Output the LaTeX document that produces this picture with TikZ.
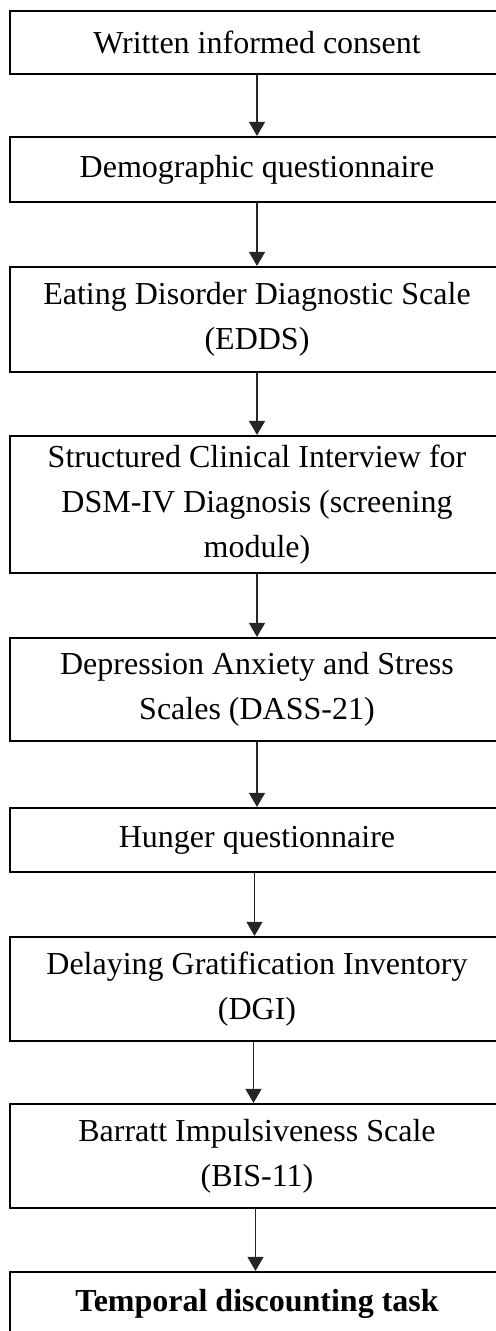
\documentclass[tikz,border=0pt]{standalone}
\usepackage{fontspec}
\setmainfont{Liberation Serif}
\usetikzlibrary{arrows.meta}
\begin{document}
\begin{tikzpicture}[x=0.75pt,y=-0.75pt,
  stepbox/.style={draw=black, line width=1.6pt, fill=white, minimum width=494*0.75pt,
    inner sep=0pt, align=center, font=\fontsize{24pt}{33.75pt}\selectfont},
  flow/.style={draw=black!85, line width=0.8pt, -{Triangle[width=12pt,length=10.5pt]}}]
\useasboundingbox (0,0) rectangle (496,1331);
\clip (0,0) rectangle (496,1331);
\node[stepbox, minimum height=63*0.75pt] (b1) at (257,42.5) {Written informed consent};
\node[stepbox, minimum height=65*0.75pt] (b2) at (257,169.5) {Demographic questionnaire};
\node[stepbox, minimum height=105*0.75pt] (b3) at (257,319.5) {Eating Disorder Diagnostic Scale\\(EDDS)};
\node[stepbox, minimum height=137*0.75pt] (b4) at (257,504.5) {Structured Clinical Interview for\\DSM-IV Diagnosis (screening\\module)};
\node[stepbox, minimum height=103*0.75pt] (b5) at (257,689.5) {Depression Anxiety and Stress\\Scales (DASS-21)};
\node[stepbox, minimum height=64*0.75pt] (b6) at (257,840) {Hunger questionnaire};
\node[stepbox, minimum height=104*0.75pt] (b7) at (257,989) {Delaying Gratification Inventory\\(DGI)};
\node[stepbox, minimum height=104*0.75pt] (b8) at (257,1156) {Barratt Impulsiveness Scale\\(BIS-11)};
\node[stepbox, minimum height=64*0.75pt] (b9) at (257,1304) {\textbf{Temporal discounting task}};
\draw[flow] (b1.south) -- (b2.north);
\draw[flow] (b2.south) -- (b3.north);
\draw[flow] (b3.south) -- (b4.north);
\draw[flow] (b4.south) -- (b5.north);
\draw[flow] (b5.south) -- (b6.north);
\draw[flow] ([xshift=-2.5*0.75pt]b6.south) -- ([xshift=-2.5*0.75pt]b7.north);
\draw[flow] ([xshift=-3.5*0.75pt]b7.south) -- ([xshift=-3.5*0.75pt]b8.north);
\draw[flow] ([xshift=-1.5*0.75pt]b8.south) -- ([xshift=-1.5*0.75pt]b9.north);
\end{tikzpicture}
\end{document}
